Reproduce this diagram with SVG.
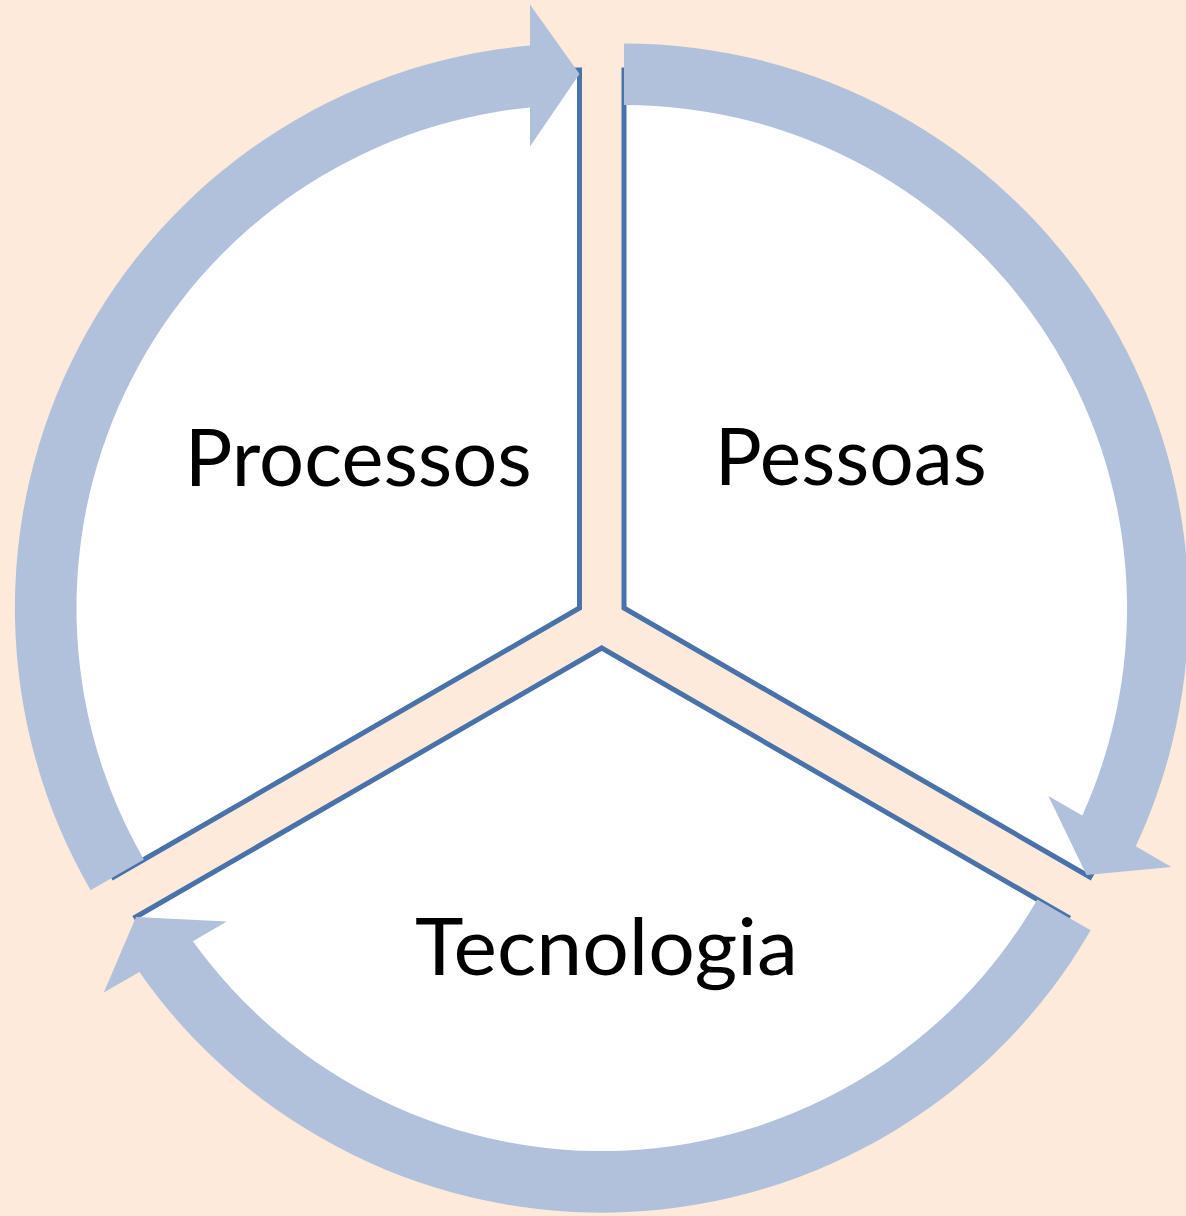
<svg xmlns="http://www.w3.org/2000/svg" width="1186" height="1216" viewBox="0 0 1186 1216">
<style>
.seg{fill:#FFFFFF;stroke:#4A72AA;stroke-width:5;stroke-linejoin:miter}
.arr{fill:#B2C1DB;stroke:none}
.lbl{font-family:Lato,"Open Sans","Liberation Sans",sans-serif;font-size:80px;fill:#000000;text-anchor:middle}
</style>
<rect x="0" y="0" width="1186" height="1216" fill="#FDEADA"/>
<g id="node-processos">
<path class="seg" d="M579.5 608 L579.5 70 A538 538 0 0 0 113.6 877 Z"/>
</g>
<g id="node-pessoas">
<path class="seg" d="M624 608 L624 70 A538 538 0 0 1 1089.9 877 Z"/>
</g>
<g id="node-tecnologia">
<path class="seg" d="M601.7 648 L1067.6 917 A538 538 0 0 1 135.8 917 Z"/>
</g>
<g id="connectors">
<path class="arr" d="M90.6 890.3 A564.5 564.5 0 0 1 530 45.6 L530 4.5 L579.5 74 L530 146.5 L530 107.4 A503 503 0 0 0 143.9 859.5 Z"/>
<path class="arr" d="M624 43.5 A564.5 564.5 0 0 1 1135.8 846.3 L1171.4 866.9 L1086.5 875 L1048.4 795.9 L1082.3 815.4 A503 503 0 0 0 624 105 Z"/>
<path class="arr" d="M1090.6 930.3 A564.5 564.5 0 0 1 139.4 972.1 L103.8 992.6 L136 917 L226.8 921.6 L192.9 941.2 A503 503 0 0 0 1037.3 899.5 Z"/>
</g>
<g id="labels">
<text class="lbl" x="358.3" y="486" textLength="347" lengthAdjust="spacingAndGlyphs">Processos</text>
<text class="lbl" x="850.8" y="485" textLength="272" lengthAdjust="spacingAndGlyphs">Pessoas</text>
<text class="lbl" x="606.5" y="975" textLength="383" lengthAdjust="spacingAndGlyphs">Tecnologia</text>
</g>
</svg>
